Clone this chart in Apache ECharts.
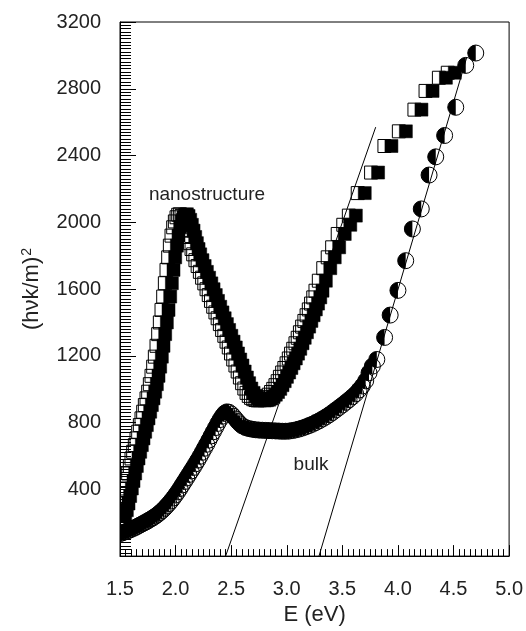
<!DOCTYPE html>
<html><head><meta charset="utf-8">
<script src="https://cdn.jsdelivr.net/npm/echarts/dist/echarts.min.js"></script>
<style>html,body{margin:0;padding:0;background:#fff}#c{width:526px;height:631px}</style>
</head><body><div id="c"></div>
<script>
// x-axis tick labels (eV) and y-axis tick labels
const xTickLabels = ['1.5','2.0','2.5','3.0','3.5','4.0','4.5','5.0'];
const yTickLabels = ['400','800','1200','1600','2000','2400','2800','3200'];

// nanostructure: [E (eV), (hv k/m)^2]
const nanoPoints = [
[1.515,240],[1.53,275],[1.545,315],[1.56,360],[1.575,405],[1.59,450],[1.605,495],[1.62,540],[1.635,585],[1.65,625],
[1.665,665],[1.68,705],[1.695,745],[1.71,785],[1.725,825],[1.74,865],[1.755,905],[1.77,945],[1.785,985],[1.80,1030],
[1.815,1080],[1.83,1135],[1.845,1195],[1.86,1260],[1.875,1330],[1.89,1400],[1.905,1475],[1.92,1555],[1.935,1635],[1.95,1715],
[1.965,1790],[1.98,1860],[1.995,1920],[2.01,1970],[2.025,2005],[2.04,2030],[2.055,2045],[2.07,2048],
[2.085,2038],[2.10,2015],[2.115,1985],[2.13,1950],[2.145,1912],[2.16,1875],[2.175,1840],[2.19,1808],[2.21,1773],[2.23,1738],
[2.25,1703],[2.27,1668],[2.29,1634],[2.31,1599],[2.33,1564],[2.35,1529],[2.37,1494],[2.39,1460],[2.41,1425],[2.43,1390],
[2.45,1355],[2.47,1320],[2.49,1285],[2.51,1250],[2.53,1214],[2.55,1178],[2.57,1142],[2.59,1106],[2.61,1070],[2.63,1036],
[2.65,1004],[2.67,978],[2.69,960],[2.71,948],[2.73,940],[2.75,935],[2.77,933],[2.79,934],[2.81,937],[2.83,944],
[2.85,954],[2.87,967],[2.89,983],[2.91,1002],[2.93,1024],[2.95,1048],[2.97,1074],[2.99,1100],[3.01,1127],[3.03,1155],
[3.05,1184],[3.07,1213],[3.09,1242],[3.11,1275],[3.13,1308],[3.15,1341],[3.17,1375],[3.19,1409],[3.21,1443],[3.23,1478],
[3.25,1513],[3.27,1550],[3.29,1590],[3.32,1650],[3.36,1725],[3.40,1790],[3.44,1850],[3.49,1930],[3.54,1985],[3.59,2040],
[3.67,2175],[3.79,2298],[3.91,2457],[4.04,2545],[4.18,2675],[4.28,2787],[4.40,2866],[4.48,2896]
];

// bulk: [E (eV), (hv k/m)^2]
const bulkPoints = [
[1.50,135],[1.52,139],[1.54,144],[1.56,149],[1.58,154],[1.60,160],[1.62,166],[1.64,172],[1.66,179],[1.68,186],
[1.70,193],[1.72,200],[1.74,207],[1.76,215],[1.78,223],[1.80,231],[1.82,240],[1.84,250],[1.86,261],[1.88,273],
[1.90,286],[1.92,300],[1.94,315],[1.96,331],[1.98,348],[2.00,366],[2.02,385],[2.04,405],[2.06,426],[2.08,447],
[2.10,468],[2.12,489],[2.14,510],[2.16,531],[2.18,553],[2.20,575],[2.22,598],[2.24,622],[2.26,646],[2.28,670],
[2.30,695],[2.32,720],[2.34,745],[2.36,770],[2.38,795],[2.40,818],[2.42,838],[2.44,855],[2.46,864],[2.48,862],
[2.50,852],[2.52,838],[2.54,822],[2.56,806],[2.58,792],[2.60,780],[2.63,770],[2.66,764],[2.69,760],[2.72,757],
[2.75,755],[2.78,754],[2.81,753],[2.84,752],[2.87,751],[2.90,750],[2.93,749],[2.96,748],[2.99,748],[3.02,749],
[3.05,752],[3.08,756],[3.11,761],[3.14,767],[3.17,774],[3.20,782],[3.23,790],[3.26,800],[3.29,810],[3.32,821],
[3.35,833],[3.38,846],[3.41,860],[3.44,875],[3.47,890],[3.50,905],[3.53,921],[3.56,937],[3.59,954],[3.62,972],
[3.65,995],[3.68,1019],[3.71,1050],[3.74,1098],[3.77,1138],[3.81,1178],[3.88,1310],[3.93,1444],[4.00,1592],[4.07,1770],
[4.13,1960],[4.21,2080],[4.28,2283],[4.34,2392],[4.42,2520],[4.52,2689],[4.61,2940],[4.70,3014]
];

// linear extrapolation lines (band-gap fits)
const fitNano = [[2.45,0],[3.80,2570]];
const fitBulk = [[3.29,0],[4.62,2990]];

const FONT = '"Liberation Sans", Arial, Helvetica, sans-serif';
const chart = echarts.init(document.getElementById('c'), null, {renderer:'canvas'});

function squarePair(params, api){
  const p = api.coord([api.value(0), api.value(1)]);
  const s = 13, d = 3.5;
  return {type:'group', children:[
    {type:'rect', shape:{x:p[0]-d-s/2, y:p[1]-s/2, width:s, height:s}, style:{fill:'none', stroke:'#000', lineWidth:1}},
    {type:'rect', shape:{x:p[0]+d-s/2, y:p[1]-s/2, width:s, height:s}, style:{fill:'#000', stroke:'#000', lineWidth:0.5}}
  ]};
}
function halfCircle(params, api){
  const p = api.coord([api.value(0), api.value(1)]);
  const r = 8;
  return {type:'group', children:[
    {type:'circle', shape:{cx:p[0], cy:p[1], r:r}, style:{fill:'none', stroke:'#000', lineWidth:1}},
    {type:'sector', shape:{cx:p[0], cy:p[1], r0:0, r:r, startAngle:Math.PI/2, endAngle:Math.PI*1.5, clockwise:true}, style:{fill:'#000'}}
  ]};
}

chart.setOption({
  animation:false,
  backgroundColor:'#fff',
  grid:{left:120, right:16, top:22, bottom:69, show:true, borderColor:'#000', borderWidth:1},
  xAxis:{
    type:'value', min:1.5, max:5.0, interval:0.5,
    name:'E (eV)', nameLocation:'middle', nameGap:46,
    nameTextStyle:{fontFamily:FONT, fontSize:22, color:'#222'},
    axisLine:{show:true, lineStyle:{color:'#000', width:1}},
    axisTick:{show:true, inside:true, length:11, lineStyle:{color:'#000'}},
    minorTick:{show:true, splitNumber:10, length:7, lineStyle:{color:'#000'}},
    splitLine:{show:false}, minorSplitLine:{show:false},
    axisLabel:{fontFamily:FONT, fontSize:20, color:'#222', margin:23,
      formatter:(v)=>{const i=Math.round((v-1.5)/0.5); return xTickLabels[i]||'';}}
  },
  yAxis:{
    type:'value', min:0, max:3200, interval:400,
    name:'{a|(hνk/m)}{b|2}', nameLocation:'middle', nameGap:76, nameRotate:90,
    nameTextStyle:{fontFamily:FONT, color:'#222',
      rich:{a:{fontFamily:FONT, fontSize:22, color:'#222'}, b:{fontFamily:FONT, fontSize:14, color:'#222', verticalAlign:'top', padding:[0,0,10,1]}}},
    axisLine:{show:true, lineStyle:{color:'#000', width:1}},
    axisTick:{show:true, inside:true, length:16, lineStyle:{color:'#000'}},
    minorTick:{show:true, splitNumber:20, length:11, lineStyle:{color:'#000'}},
    splitLine:{show:false}, minorSplitLine:{show:false},
    axisLabel:{fontFamily:FONT, fontSize:20, color:'#222', margin:19, showMinLabel:false,
      formatter:(v)=>{const i=Math.round(v/400)-1; return i>=0 ? (yTickLabels[i]||'') : '';}}
  },
  series:[
    {type:'custom', name:'nanostructure', renderItem:squarePair, data:nanoPoints, clip:true, z:2},
    {type:'custom', name:'bulk', renderItem:halfCircle, data:bulkPoints, clip:true, z:3},
    {type:'line', data:fitNano, symbol:'none', lineStyle:{color:'#000', width:1}, z:5},
    {type:'line', data:fitBulk, symbol:'none', lineStyle:{color:'#000', width:1}, z:5}
  ],
  graphic:[
    {type:'text', x:207, y:195, style:{text:'nanostructure', fontFamily:FONT, fontSize:19, fill:'#222', textAlign:'center', textVerticalAlign:'middle'}},
    {type:'text', x:311, y:465, style:{text:'bulk', fontFamily:FONT, fontSize:19, fill:'#222', textAlign:'center', textVerticalAlign:'middle'}}
  ]
});
</script></body></html>
